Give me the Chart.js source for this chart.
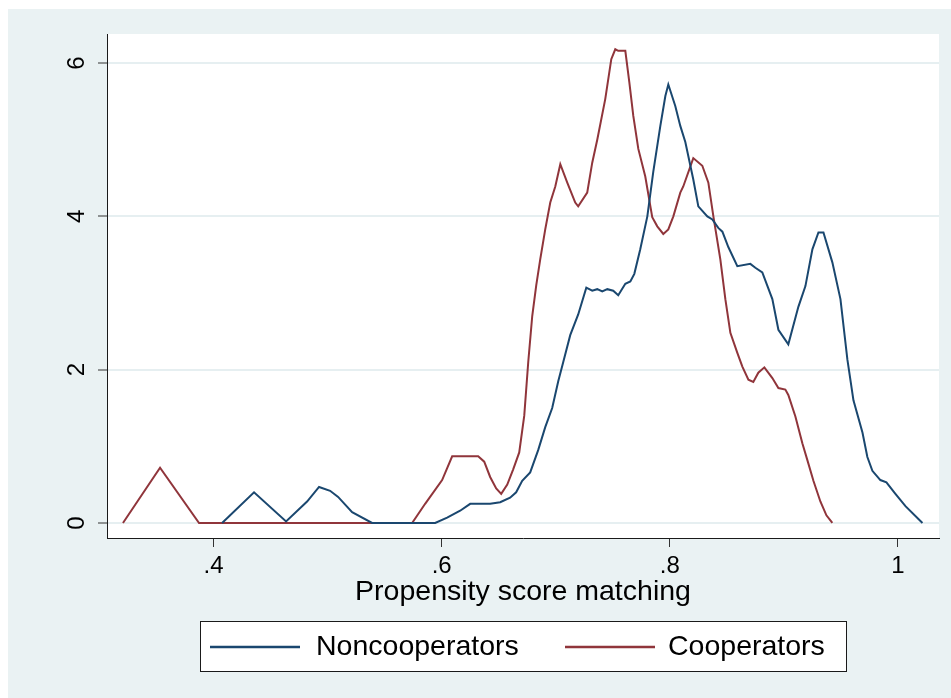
<!DOCTYPE html>
<html>
<head>
<meta charset="utf-8">
<script src="https://cdn.jsdelivr.net/npm/chart.js@4.4.1/dist/chart.umd.min.js"></script>
<style>
  html, body { margin: 0; padding: 0; background: #ffffff; }
  #wrap { width: 951px; height: 698px; position: relative; }
</style>
</head>
<body>
<div id="wrap"><canvas id="c" width="951" height="698"></canvas></div>
<script>
// ---- data ----
const seriesNames = ['Noncooperators', 'Cooperators'];

const nonX = [0.4075,0.4355,0.4636,0.482,0.4925,0.5022,0.5092,0.5215,0.539,0.5943,0.6048,0.6162,0.625,0.6425,0.6513,0.66,0.6653,0.6706,0.6776,0.6846,0.6908,0.6969,0.7022,0.7066,0.7127,0.7197,0.7268,0.732,0.7364,0.7408,0.7452,0.7504,0.7548,0.761,0.7654,0.7689,0.7741,0.7803,0.7855,0.7917,0.7961,0.7987,0.8048,0.8092,0.8136,0.8206,0.825,0.8329,0.8373,0.8425,0.8461,0.8513,0.8592,0.8706,0.875,0.8811,0.8899,0.8952,0.9039,0.9127,0.9189,0.925,0.9303,0.9347,0.9425,0.9496,0.9557,0.961,0.9689,0.9732,0.9776,0.9846,0.9899,0.9978,1.0066,1.0215];
const nonY = [0,0.40,0.02,0.28,0.47,0.42,0.34,0.14,0,0,0.07,0.16,0.25,0.25,0.27,0.33,0.40,0.55,0.66,0.95,1.25,1.50,1.85,2.10,2.45,2.72,3.07,3.03,3.05,3.02,3.05,3.03,2.97,3.12,3.15,3.25,3.57,4.00,4.58,5.18,5.57,5.72,5.44,5.18,4.97,4.48,4.13,4.00,3.96,3.85,3.80,3.60,3.35,3.38,3.33,3.27,2.92,2.52,2.33,2.82,3.09,3.57,3.79,3.79,3.40,2.92,2.13,1.60,1.18,0.86,0.68,0.56,0.53,0.38,0.22,0];

const coopX = [0.3206,0.3531,0.3873,0.5741,0.5855,0.6004,0.6092,0.632,0.6373,0.6425,0.6478,0.6522,0.6575,0.6627,0.668,0.6724,0.6759,0.6794,0.6829,0.6864,0.6908,0.6952,0.6996,0.704,0.7101,0.7171,0.7197,0.7276,0.732,0.7364,0.7434,0.7487,0.7522,0.7548,0.761,0.7645,0.768,0.7724,0.7785,0.7846,0.789,0.7943,0.7987,0.8031,0.8092,0.8118,0.8206,0.8285,0.8338,0.8382,0.8443,0.8487,0.8531,0.8592,0.8636,0.8689,0.8732,0.8776,0.8829,0.8899,0.8952,0.9013,0.9039,0.9101,0.9162,0.9206,0.9259,0.932,0.9373,0.9425];
const coopY = [0,0.72,0,0,0.25,0.56,0.87,0.87,0.80,0.60,0.45,0.38,0.50,0.70,0.92,1.40,2.10,2.70,3.10,3.44,3.83,4.18,4.39,4.68,4.44,4.18,4.13,4.31,4.70,5.00,5.53,6.05,6.18,6.16,6.16,5.75,5.31,4.88,4.52,3.99,3.87,3.77,3.83,4.00,4.31,4.39,4.76,4.66,4.44,4.00,3.44,2.92,2.48,2.22,2.04,1.87,1.84,1.96,2.03,1.89,1.76,1.74,1.67,1.39,1.04,0.82,0.55,0.28,0.10,0];

const xTickValues = [0.4, 0.6, 0.8, 1.0];
const xTickLabels = ['.4', '.6', '.8', '1'];
const yTickValues = [0, 2, 4, 6];
const yTickLabels = ['0', '2', '4', '6'];
const xTitle = 'Propensity score matching';

// ---- styling ----
const FONT = "'Liberation Sans', Arial, Helvetica, sans-serif";
const colors = ['#1a476f', '#90353b'];
const bgOuter = '#eaf2f3';

const toPts = (xs, ys) => xs.map((x, i) => ({ x: x, y: ys[i] }));

const backgroundPlugin = {
  id: 'stataBg',
  beforeDraw(chart) {
    const ctx = chart.ctx;
    const a = chart.chartArea;
    ctx.save();
    ctx.fillStyle = '#ffffff';
    ctx.fillRect(0, 0, chart.width, chart.height);
    ctx.fillStyle = bgOuter;
    ctx.fillRect(8, 9, chart.width - 8, chart.height - 9);
    ctx.fillStyle = '#ffffff';
    ctx.fillRect(a.left, a.top, a.right - a.left, a.bottom - a.top);
    ctx.restore();
  }
};

const legendPlugin = {
  id: 'stataLegend',
  afterDraw(chart) {
    const ctx = chart.ctx;
    const box = { x: 200, y: 621, w: 646, h: 50 };
    const items = [
      { lineX: 210, textX: 316 },
      { lineX: 565, textX: 668 }
    ];
    ctx.save();
    ctx.fillStyle = '#ffffff';
    ctx.fillRect(box.x, box.y, box.w, box.h);
    ctx.strokeStyle = '#1a1a1a';
    ctx.lineWidth = 1;
    ctx.strokeRect(box.x + 0.5, box.y + 0.5, box.w, box.h);
    const cy = box.y + box.h / 2 + 1;
    chart.data.datasets.forEach((ds, i) => {
      const it = items[i];
      ctx.strokeStyle = ds.borderColor;
      ctx.lineWidth = 2.5;
      ctx.beginPath();
      ctx.moveTo(it.lineX, cy);
      ctx.lineTo(it.lineX + 90, cy);
      ctx.stroke();
      ctx.fillStyle = '#000000';
      ctx.font = '28.5px ' + FONT;
      ctx.textBaseline = 'middle';
      ctx.textAlign = 'left';
      ctx.fillText(ds.label, it.textX, cy);
    });
    ctx.restore();
  }
};

new Chart(document.getElementById('c'), {
  type: 'scatter',
  data: {
    datasets: [
      { label: seriesNames[0], data: toPts(nonX, nonY), borderColor: colors[0], backgroundColor: colors[0] },
      { label: seriesNames[1], data: toPts(coopX, coopY), borderColor: colors[1], backgroundColor: colors[1] }
    ].map(d => Object.assign(d, { showLine: true, pointRadius: 0, borderWidth: 2, tension: 0, fill: false }))
  },
  options: {
    responsive: false,
    animation: false,
    devicePixelRatio: 1,
    layout: { padding: { left: 0, top: 34, right: 12, bottom: 0 } },
    plugins: { legend: { display: false }, tooltip: { enabled: false } },
    scales: {
      x: {
        type: 'linear',
        min: 0.3066,
        max: 1.036,
        afterBuildTicks: s => { s.ticks = xTickValues.map(v => ({ value: v })); },
        afterFit: s => { s.height = 160; },
        ticks: {
          autoSkip: false,
          maxRotation: 0,
          color: '#000',
          font: { family: FONT, size: 24 },
          padding: 5,
          callback: (v) => { const i = xTickValues.findIndex(t => Math.abs(t - v) < 1e-9); return i >= 0 ? xTickLabels[i] : ''; }
        },
        grid: { drawOnChartArea: false, drawTicks: true, tickLength: 9, tickColor: '#333', tickWidth: 1 },
        border: { display: true, color: '#1a1a1a', width: 1 },
        title: { display: true, text: xTitle, color: '#000', font: { family: FONT, size: 28.5 }, padding: { top: 0, bottom: 89 } }
      },
      y: {
        type: 'linear',
        min: -0.196,
        max: 6.379,
        afterBuildTicks: s => { s.ticks = yTickValues.map(v => ({ value: v })); },
        afterFit: s => { s.width = 107; },
        ticks: {
          autoSkip: false,
          minRotation: 90,
          maxRotation: 90,
          crossAlign: 'center',
          color: '#000',
          font: { family: FONT, size: 24 },
          padding: 14,
          callback: (v) => { const i = yTickValues.findIndex(t => Math.abs(t - v) < 1e-9); return i >= 0 ? yTickLabels[i] : ''; }
        },
        grid: { drawOnChartArea: true, color: '#e6eff1', lineWidth: 2, drawTicks: true, tickLength: 9, tickColor: '#333', tickWidth: 1 },
        border: { display: true, color: '#1a1a1a', width: 1 }
      }
    }
  },
  plugins: [backgroundPlugin, legendPlugin]
});
</script>
</body>
</html>
